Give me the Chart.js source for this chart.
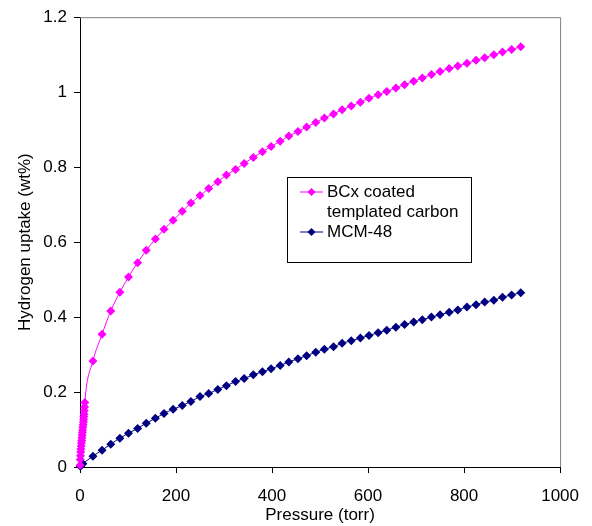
<!DOCTYPE html>
<html>
<head>
<meta charset="utf-8">
<script src="https://cdn.jsdelivr.net/npm/chart.js@4.4.1/dist/chart.umd.min.js"></script>
<style>
  html, body { margin: 0; padding: 0; background: #fff; }
</style>
</head>
<body>
<canvas id="isoChart" width="592" height="526"></canvas>
<script>
// low pressure points (dense start of the isotherms)
const pressureLowBCx = [0.2, 0.5, 1, 1.5, 2, 2.5, 3, 3.5, 4, 4.5, 5, 5.5, 6, 6.5, 7, 7.5, 8, 8.5, 9, 9.5, 10];
const uptakeLowBCx = [0.005, 0.02, 0.03, 0.04, 0.048, 0.056, 0.064, 0.071, 0.078, 0.085, 0.092, 0.099, 0.106, 0.113, 0.12, 0.127, 0.134, 0.141, 0.15, 0.16, 0.172];
const pressureLowMCM = [0.5, 1.5, 3, 6];
const uptakeLowMCM = [0.002, 0.004, 0.006, 0.009];

// main measurement points (torr)
const pressure = [27, 46, 64, 83, 101, 120, 138, 157, 175, 194, 213, 231, 250, 268, 287, 305, 324, 342, 361, 380,
  398, 417, 435, 454, 472, 491, 509, 528, 546, 565, 584, 602, 621, 639, 658, 676, 695, 713, 732, 750,
  769, 787, 806, 825, 843, 862, 880, 899, 918];
const uptakeBCx = [0.283, 0.354, 0.416, 0.466, 0.507, 0.545, 0.578, 0.608, 0.634, 0.658, 0.682, 0.704, 0.724, 0.743, 0.761, 0.779, 0.794, 0.810, 0.826, 0.841,
  0.855, 0.869, 0.883, 0.895, 0.907, 0.919, 0.931, 0.942, 0.953, 0.963, 0.973, 0.984, 0.993, 1.002, 1.011, 1.020, 1.029, 1.038, 1.047, 1.055,
  1.063, 1.070, 1.077, 1.085, 1.092, 1.100, 1.107, 1.114, 1.121];
const uptakeMCM = [0.029, 0.045, 0.061, 0.077, 0.090, 0.103, 0.117, 0.130, 0.143, 0.154, 0.164, 0.175, 0.188, 0.196, 0.207, 0.217, 0.228, 0.236, 0.246, 0.254,
  0.262, 0.271, 0.280, 0.289, 0.297, 0.306, 0.314, 0.321, 0.330, 0.337, 0.344, 0.351, 0.358, 0.365, 0.373, 0.380, 0.387, 0.393, 0.400, 0.406,
  0.413, 0.419, 0.427, 0.433, 0.440, 0.445, 0.453, 0.459, 0.465];

const seriesNames = [["BCx coated", "templated carbon"], ["MCM-48"]];
const xTicks = [0, 200, 400, 600, 800, 1000];
const xTickLabels = ["0", "200", "400", "600", "800", "1000"];
const yTicks = [0, 0.2, 0.4, 0.6, 0.8, 1, 1.2];
const yTickLabels = ["0", "0.2", "0.4", "0.6", "0.8", "1", "1.2"];

const FONT = "'Liberation Sans', Arial, sans-serif";
const colors = { bcx: "#ff00ff", mcm: "#000080" };

function toPoints(xs, ys) {
  return xs.map((x, i) => ({ x: x, y: ys[i] }));
}

// plot frame: grey top / right edge like the spreadsheet plot area
const framePlugin = {
  id: "frame",
  beforeDatasetsDraw(chart) {
    const { ctx, chartArea: a } = chart;
    ctx.save();
    ctx.strokeStyle = "#808080";
    ctx.lineWidth = 1;
    ctx.beginPath();
    ctx.moveTo(a.left, a.top + 0.5);
    ctx.lineTo(a.right + 0.5, a.top + 0.5);
    ctx.lineTo(a.right + 0.5, a.bottom);
    ctx.stroke();
    ctx.restore();
  }
};

// legend box inside the plot
const boxLegend = {
  id: "boxLegend",
  afterDraw(chart) {
    const ctx = chart.ctx;
    const bx = 287, by = 177, bw = 184, bh = 85;
    ctx.save();
    ctx.fillStyle = "#fff";
    ctx.fillRect(bx, by, bw, bh);
    ctx.strokeStyle = "#000";
    ctx.lineWidth = 1;
    ctx.strokeRect(bx + 0.5, by + 0.5, bw, bh);

    ctx.font = "17px " + FONT;
    ctx.textBaseline = "middle";
    ctx.fillStyle = "#000";
    let rowY = by + 15;
    chart.data.datasets.forEach(ds => {
      ctx.strokeStyle = ds.borderColor;
      ctx.beginPath();
      ctx.moveTo(bx + 13, rowY);
      ctx.lineTo(bx + 36, rowY);
      ctx.stroke();
      ctx.fillStyle = ds.borderColor;
      ctx.beginPath();
      ctx.moveTo(bx + 24.5, rowY - 4);
      ctx.lineTo(bx + 28.5, rowY);
      ctx.lineTo(bx + 24.5, rowY + 4);
      ctx.lineTo(bx + 20.5, rowY);
      ctx.closePath();
      ctx.fill();
      ctx.fillStyle = "#000";
      ds.label.forEach(line => {
        ctx.fillText(line, bx + 40, rowY);
        rowY += 20;
      });
    });
    ctx.restore();
  }
};

const tickFont = { family: FONT, size: 17 };

new Chart(document.getElementById("isoChart"), {
  type: "line",
  data: {
    datasets: [
      {
        label: seriesNames[0],
        data: toPoints(pressureLowBCx.concat(pressure), uptakeLowBCx.concat(uptakeBCx)),
        borderColor: colors.bcx,
        backgroundColor: colors.bcx,
        borderWidth: 1,
        pointStyle: "rectRot",
        pointRadius: 4.5,
        pointBorderWidth: 0,
        cubicInterpolationMode: "monotone",
        clip: false
      },
      {
        label: seriesNames[1],
        data: toPoints(pressureLowMCM.concat(pressure), uptakeLowMCM.concat(uptakeMCM)),
        borderColor: colors.mcm,
        backgroundColor: colors.mcm,
        borderWidth: 1,
        pointStyle: "rectRot",
        pointRadius: 4.5,
        pointBorderWidth: 0,
        cubicInterpolationMode: "monotone",
        clip: false
      }
    ]
  },
  options: {
    responsive: false,
    animation: false,
    events: [],
    layout: { padding: { left: 0, right: 30, top: 14, bottom: 0 } },
    plugins: {
      legend: { display: false },
      tooltip: { enabled: false }
    },
    scales: {
      x: {
        type: "linear",
        min: 0,
        max: 1000,
        afterBuildTicks: s => { s.ticks = xTicks.map(v => ({ value: v })); },
        afterFit: s => { s.height = 59; },
        ticks: {
          color: "#000",
          font: tickFont,
          padding: 13,
          maxRotation: 0,
          autoSkip: false,
          callback: (v, i) => xTickLabels[i]
        },
        grid: { drawOnChartArea: false, tickLength: 6, color: "#000" },
        border: { color: "#000", width: 1 },
        title: {
          display: true,
          text: "Pressure (torr)",
          color: "#000",
          font: tickFont,
          padding: { top: 0, bottom: 0 }
        }
      },
      y: {
        type: "linear",
        min: 0,
        max: 1.2,
        afterBuildTicks: s => { s.ticks = yTicks.map(v => ({ value: v })); },
        afterFit: s => { s.width = 80; },
        ticks: {
          color: "#000",
          font: tickFont,
          padding: 7,
          autoSkip: false,
          callback: (v, i) => yTickLabels[i]
        },
        grid: { drawOnChartArea: false, tickLength: 6, color: "#000" },
        border: { color: "#000", width: 1 },
        title: {
          display: true,
          text: "Hydrogen uptake (wt%)",
          color: "#000",
          font: tickFont,
          padding: { top: 15, bottom: 0 }
        }
      }
    }
  },
  plugins: [framePlugin, boxLegend]
});
</script>
</body>
</html>
